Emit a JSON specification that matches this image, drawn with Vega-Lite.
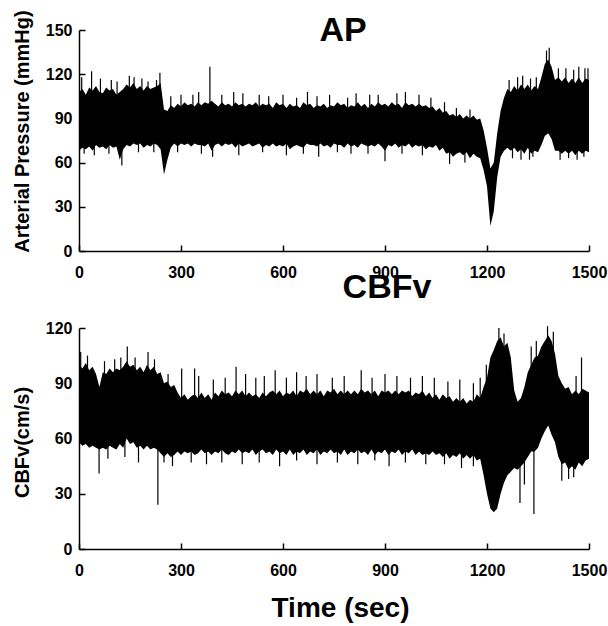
{
  "$schema": "https://vega.github.io/schema/vega-lite/v6.json",
  "padding": {"left": 12, "top": 9, "right": 6, "bottom": 4},
  "background": "white",
  "datasets": {
    "sig": [
      {"t":0,"ap_hi":108,"ap_lo":68,"cb_hi":100,"cb_lo":58},
      {"t":10,"ap_hi":110,"ap_lo":70,"cb_hi":98,"cb_lo":56},
      {"t":20,"ap_hi":106,"ap_lo":69,"cb_hi":101,"cb_lo":57},
      {"t":30,"ap_hi":111,"ap_lo":71,"cb_hi":97,"cb_lo":55},
      {"t":40,"ap_hi":109,"ap_lo":68,"cb_hi":99,"cb_lo":56},
      {"t":50,"ap_hi":112,"ap_lo":72,"cb_hi":95,"cb_lo":55},
      {"t":60,"ap_hi":108,"ap_lo":70,"cb_hi":88,"cb_lo":54},
      {"t":70,"ap_hi":107,"ap_lo":71,"cb_hi":96,"cb_lo":55},
      {"t":80,"ap_hi":111,"ap_lo":69,"cb_hi":95,"cb_lo":54},
      {"t":90,"ap_hi":109,"ap_lo":72,"cb_hi":98,"cb_lo":56},
      {"t":100,"ap_hi":110,"ap_lo":70,"cb_hi":96,"cb_lo":55},
      {"t":110,"ap_hi":106,"ap_lo":71,"cb_hi":98,"cb_lo":54},
      {"t":120,"ap_hi":108,"ap_lo":62,"cb_hi":97,"cb_lo":57},
      {"t":130,"ap_hi":110,"ap_lo":69,"cb_hi":99,"cb_lo":55},
      {"t":140,"ap_hi":113,"ap_lo":72,"cb_hi":102,"cb_lo":60},
      {"t":150,"ap_hi":111,"ap_lo":71,"cb_hi":99,"cb_lo":57},
      {"t":160,"ap_hi":114,"ap_lo":73,"cb_hi":100,"cb_lo":58},
      {"t":170,"ap_hi":110,"ap_lo":72,"cb_hi":97,"cb_lo":55},
      {"t":180,"ap_hi":112,"ap_lo":73,"cb_hi":99,"cb_lo":56},
      {"t":190,"ap_hi":109,"ap_lo":70,"cb_hi":96,"cb_lo":54},
      {"t":200,"ap_hi":112,"ap_lo":72,"cb_hi":100,"cb_lo":56},
      {"t":210,"ap_hi":110,"ap_lo":71,"cb_hi":97,"cb_lo":54},
      {"t":220,"ap_hi":111,"ap_lo":73,"cb_hi":99,"cb_lo":55},
      {"t":230,"ap_hi":112,"ap_lo":72,"cb_hi":95,"cb_lo":54},
      {"t":240,"ap_hi":114,"ap_lo":69,"cb_hi":96,"cb_lo":52},
      {"t":250,"ap_hi":96,"ap_lo":52,"cb_hi":90,"cb_lo":50},
      {"t":260,"ap_hi":95,"ap_lo":62,"cb_hi":91,"cb_lo":52},
      {"t":270,"ap_hi":99,"ap_lo":70,"cb_hi":88,"cb_lo":50},
      {"t":280,"ap_hi":97,"ap_lo":73,"cb_hi":89,"cb_lo":51},
      {"t":290,"ap_hi":100,"ap_lo":71,"cb_hi":85,"cb_lo":53},
      {"t":300,"ap_hi":98,"ap_lo":73,"cb_hi":82,"cb_lo":51},
      {"t":310,"ap_hi":101,"ap_lo":72,"cb_hi":84,"cb_lo":53},
      {"t":320,"ap_hi":99,"ap_lo":73,"cb_hi":81,"cb_lo":52},
      {"t":330,"ap_hi":100,"ap_lo":71,"cb_hi":83,"cb_lo":53},
      {"t":340,"ap_hi":98,"ap_lo":73,"cb_hi":84,"cb_lo":51},
      {"t":350,"ap_hi":101,"ap_lo":72,"cb_hi":82,"cb_lo":52},
      {"t":360,"ap_hi":99,"ap_lo":72,"cb_hi":85,"cb_lo":54},
      {"t":370,"ap_hi":101,"ap_lo":71,"cb_hi":82,"cb_lo":52},
      {"t":380,"ap_hi":100,"ap_lo":73,"cb_hi":84,"cb_lo":53},
      {"t":390,"ap_hi":102,"ap_lo":68,"cb_hi":81,"cb_lo":51},
      {"t":400,"ap_hi":100,"ap_lo":72,"cb_hi":85,"cb_lo":53},
      {"t":410,"ap_hi":98,"ap_lo":73,"cb_hi":83,"cb_lo":52},
      {"t":420,"ap_hi":101,"ap_lo":71,"cb_hi":86,"cb_lo":54},
      {"t":430,"ap_hi":99,"ap_lo":73,"cb_hi":84,"cb_lo":52},
      {"t":440,"ap_hi":100,"ap_lo":72,"cb_hi":85,"cb_lo":51},
      {"t":450,"ap_hi":98,"ap_lo":73,"cb_hi":83,"cb_lo":53},
      {"t":460,"ap_hi":101,"ap_lo":70,"cb_hi":86,"cb_lo":52},
      {"t":470,"ap_hi":99,"ap_lo":73,"cb_hi":84,"cb_lo":54},
      {"t":480,"ap_hi":100,"ap_lo":71,"cb_hi":86,"cb_lo":52},
      {"t":490,"ap_hi":98,"ap_lo":72,"cb_hi":83,"cb_lo":53},
      {"t":500,"ap_hi":100,"ap_lo":73,"cb_hi":85,"cb_lo":52},
      {"t":510,"ap_hi":99,"ap_lo":71,"cb_hi":83,"cb_lo":54},
      {"t":520,"ap_hi":101,"ap_lo":72,"cb_hi":84,"cb_lo":51},
      {"t":530,"ap_hi":98,"ap_lo":73,"cb_hi":82,"cb_lo":53},
      {"t":540,"ap_hi":100,"ap_lo":70,"cb_hi":85,"cb_lo":54},
      {"t":550,"ap_hi":99,"ap_lo":72,"cb_hi":83,"cb_lo":52},
      {"t":560,"ap_hi":100,"ap_lo":71,"cb_hi":85,"cb_lo":53},
      {"t":570,"ap_hi":97,"ap_lo":73,"cb_hi":86,"cb_lo":51},
      {"t":580,"ap_hi":101,"ap_lo":71,"cb_hi":84,"cb_lo":54},
      {"t":590,"ap_hi":99,"ap_lo":72,"cb_hi":86,"cb_lo":52},
      {"t":600,"ap_hi":100,"ap_lo":71,"cb_hi":83,"cb_lo":53},
      {"t":610,"ap_hi":97,"ap_lo":73,"cb_hi":85,"cb_lo":51},
      {"t":620,"ap_hi":100,"ap_lo":69,"cb_hi":84,"cb_lo":54},
      {"t":630,"ap_hi":98,"ap_lo":71,"cb_hi":86,"cb_lo":51},
      {"t":640,"ap_hi":99,"ap_lo":72,"cb_hi":83,"cb_lo":53},
      {"t":650,"ap_hi":97,"ap_lo":71,"cb_hi":86,"cb_lo":52},
      {"t":660,"ap_hi":101,"ap_lo":70,"cb_hi":85,"cb_lo":54},
      {"t":670,"ap_hi":99,"ap_lo":73,"cb_hi":87,"cb_lo":51},
      {"t":680,"ap_hi":100,"ap_lo":72,"cb_hi":84,"cb_lo":53},
      {"t":690,"ap_hi":97,"ap_lo":72,"cb_hi":86,"cb_lo":52},
      {"t":700,"ap_hi":99,"ap_lo":71,"cb_hi":84,"cb_lo":54},
      {"t":710,"ap_hi":98,"ap_lo":73,"cb_hi":86,"cb_lo":51},
      {"t":720,"ap_hi":100,"ap_lo":71,"cb_hi":83,"cb_lo":53},
      {"t":730,"ap_hi":97,"ap_lo":72,"cb_hi":86,"cb_lo":52},
      {"t":740,"ap_hi":99,"ap_lo":70,"cb_hi":85,"cb_lo":54},
      {"t":750,"ap_hi":98,"ap_lo":73,"cb_hi":87,"cb_lo":52},
      {"t":760,"ap_hi":101,"ap_lo":72,"cb_hi":84,"cb_lo":53},
      {"t":770,"ap_hi":99,"ap_lo":72,"cb_hi":86,"cb_lo":51},
      {"t":780,"ap_hi":100,"ap_lo":70,"cb_hi":84,"cb_lo":54},
      {"t":790,"ap_hi":97,"ap_lo":73,"cb_hi":86,"cb_lo":51},
      {"t":800,"ap_hi":99,"ap_lo":71,"cb_hi":84,"cb_lo":53},
      {"t":810,"ap_hi":98,"ap_lo":72,"cb_hi":86,"cb_lo":52},
      {"t":820,"ap_hi":101,"ap_lo":70,"cb_hi":84,"cb_lo":54},
      {"t":830,"ap_hi":98,"ap_lo":73,"cb_hi":87,"cb_lo":52},
      {"t":840,"ap_hi":100,"ap_lo":72,"cb_hi":85,"cb_lo":53},
      {"t":850,"ap_hi":97,"ap_lo":71,"cb_hi":86,"cb_lo":51},
      {"t":860,"ap_hi":100,"ap_lo":72,"cb_hi":84,"cb_lo":54},
      {"t":870,"ap_hi":98,"ap_lo":71,"cb_hi":86,"cb_lo":51},
      {"t":880,"ap_hi":101,"ap_lo":73,"cb_hi":83,"cb_lo":53},
      {"t":890,"ap_hi":99,"ap_lo":71,"cb_hi":86,"cb_lo":52},
      {"t":900,"ap_hi":100,"ap_lo":68,"cb_hi":85,"cb_lo":54},
      {"t":910,"ap_hi":98,"ap_lo":72,"cb_hi":86,"cb_lo":51},
      {"t":920,"ap_hi":101,"ap_lo":71,"cb_hi":84,"cb_lo":53},
      {"t":930,"ap_hi":99,"ap_lo":73,"cb_hi":86,"cb_lo":52},
      {"t":940,"ap_hi":100,"ap_lo":70,"cb_hi":84,"cb_lo":54},
      {"t":950,"ap_hi":97,"ap_lo":72,"cb_hi":86,"cb_lo":51},
      {"t":960,"ap_hi":101,"ap_lo":71,"cb_hi":85,"cb_lo":53},
      {"t":970,"ap_hi":99,"ap_lo":73,"cb_hi":86,"cb_lo":52},
      {"t":980,"ap_hi":100,"ap_lo":70,"cb_hi":83,"cb_lo":54},
      {"t":990,"ap_hi":98,"ap_lo":72,"cb_hi":85,"cb_lo":51},
      {"t":1000,"ap_hi":100,"ap_lo":71,"cb_hi":84,"cb_lo":53},
      {"t":1010,"ap_hi":98,"ap_lo":72,"cb_hi":86,"cb_lo":51},
      {"t":1020,"ap_hi":99,"ap_lo":69,"cb_hi":83,"cb_lo":52},
      {"t":1030,"ap_hi":97,"ap_lo":71,"cb_hi":85,"cb_lo":51},
      {"t":1040,"ap_hi":98,"ap_lo":70,"cb_hi":82,"cb_lo":53},
      {"t":1050,"ap_hi":95,"ap_lo":72,"cb_hi":84,"cb_lo":51},
      {"t":1060,"ap_hi":97,"ap_lo":68,"cb_hi":81,"cb_lo":52},
      {"t":1070,"ap_hi":94,"ap_lo":70,"cb_hi":84,"cb_lo":50},
      {"t":1080,"ap_hi":95,"ap_lo":66,"cb_hi":82,"cb_lo":52},
      {"t":1090,"ap_hi":92,"ap_lo":67,"cb_hi":83,"cb_lo":49},
      {"t":1100,"ap_hi":93,"ap_lo":64,"cb_hi":80,"cb_lo":51},
      {"t":1110,"ap_hi":91,"ap_lo":66,"cb_hi":82,"cb_lo":50},
      {"t":1120,"ap_hi":93,"ap_lo":67,"cb_hi":80,"cb_lo":52},
      {"t":1130,"ap_hi":90,"ap_lo":65,"cb_hi":82,"cb_lo":49},
      {"t":1140,"ap_hi":92,"ap_lo":67,"cb_hi":79,"cb_lo":51},
      {"t":1150,"ap_hi":90,"ap_lo":63,"cb_hi":81,"cb_lo":49},
      {"t":1160,"ap_hi":92,"ap_lo":66,"cb_hi":80,"cb_lo":51},
      {"t":1170,"ap_hi":89,"ap_lo":64,"cb_hi":84,"cb_lo":48},
      {"t":1180,"ap_hi":90,"ap_lo":63,"cb_hi":82,"cb_lo":49},
      {"t":1190,"ap_hi":82,"ap_lo":55,"cb_hi":88,"cb_lo":40},
      {"t":1200,"ap_hi":70,"ap_lo":44,"cb_hi":93,"cb_lo":30},
      {"t":1210,"ap_hi":56,"ap_lo":17,"cb_hi":104,"cb_lo":22},
      {"t":1220,"ap_hi":60,"ap_lo":27,"cb_hi":108,"cb_lo":20},
      {"t":1230,"ap_hi":80,"ap_lo":50,"cb_hi":113,"cb_lo":22},
      {"t":1240,"ap_hi":95,"ap_lo":64,"cb_hi":115,"cb_lo":30},
      {"t":1250,"ap_hi":104,"ap_lo":68,"cb_hi":110,"cb_lo":36},
      {"t":1260,"ap_hi":110,"ap_lo":70,"cb_hi":112,"cb_lo":40},
      {"t":1270,"ap_hi":108,"ap_lo":68,"cb_hi":104,"cb_lo":42},
      {"t":1280,"ap_hi":112,"ap_lo":70,"cb_hi":86,"cb_lo":44},
      {"t":1290,"ap_hi":109,"ap_lo":67,"cb_hi":80,"cb_lo":43},
      {"t":1300,"ap_hi":113,"ap_lo":69,"cb_hi":82,"cb_lo":45},
      {"t":1310,"ap_hi":110,"ap_lo":66,"cb_hi":88,"cb_lo":47},
      {"t":1320,"ap_hi":113,"ap_lo":70,"cb_hi":96,"cb_lo":50},
      {"t":1330,"ap_hi":109,"ap_lo":66,"cb_hi":100,"cb_lo":53},
      {"t":1340,"ap_hi":112,"ap_lo":68,"cb_hi":104,"cb_lo":53},
      {"t":1350,"ap_hi":110,"ap_lo":67,"cb_hi":105,"cb_lo":55},
      {"t":1360,"ap_hi":118,"ap_lo":72,"cb_hi":110,"cb_lo":60},
      {"t":1370,"ap_hi":127,"ap_lo":78,"cb_hi":113,"cb_lo":64},
      {"t":1380,"ap_hi":130,"ap_lo":80,"cb_hi":116,"cb_lo":67},
      {"t":1390,"ap_hi":125,"ap_lo":76,"cb_hi":113,"cb_lo":62},
      {"t":1400,"ap_hi":116,"ap_lo":68,"cb_hi":106,"cb_lo":58},
      {"t":1410,"ap_hi":118,"ap_lo":68,"cb_hi":94,"cb_lo":50},
      {"t":1420,"ap_hi":115,"ap_lo":66,"cb_hi":90,"cb_lo":46},
      {"t":1430,"ap_hi":118,"ap_lo":68,"cb_hi":87,"cb_lo":47},
      {"t":1440,"ap_hi":114,"ap_lo":66,"cb_hi":88,"cb_lo":43},
      {"t":1450,"ap_hi":117,"ap_lo":68,"cb_hi":84,"cb_lo":45},
      {"t":1460,"ap_hi":114,"ap_lo":65,"cb_hi":86,"cb_lo":43},
      {"t":1470,"ap_hi":118,"ap_lo":68,"cb_hi":84,"cb_lo":47},
      {"t":1480,"ap_hi":114,"ap_lo":66,"cb_hi":87,"cb_lo":45},
      {"t":1490,"ap_hi":117,"ap_lo":68,"cb_hi":86,"cb_lo":48},
      {"t":1500,"ap_hi":116,"ap_lo":67,"cb_hi":85,"cb_lo":49}
    ],
    "apSpikes": [
      {"t":8,"v":118},{"t":37,"v":122},{"t":63,"v":117},{"t":95,"v":116},{"t":112,"v":115},
      {"t":148,"v":119},{"t":162,"v":118},{"t":185,"v":117},{"t":203,"v":115},{"t":228,"v":116},{"t":238,"v":121},
      {"t":15,"v":66},{"t":45,"v":65},{"t":88,"v":66},{"t":126,"v":58},{"t":175,"v":67},{"t":220,"v":67},
      {"t":270,"v":105},{"t":300,"v":106},{"t":335,"v":106},{"t":352,"v":108},{"t":385,"v":125},{"t":420,"v":106},
      {"t":455,"v":108},{"t":482,"v":107},{"t":530,"v":106},{"t":558,"v":105},{"t":600,"v":106},{"t":640,"v":104},
      {"t":672,"v":108},{"t":700,"v":105},{"t":737,"v":106},{"t":790,"v":104},{"t":815,"v":107},{"t":855,"v":106},
      {"t":880,"v":106},{"t":935,"v":107},{"t":960,"v":108},{"t":1000,"v":106},{"t":1035,"v":104},{"t":1075,"v":101},
      {"t":1110,"v":97},{"t":1150,"v":96},
      {"t":290,"v":67},{"t":360,"v":66},{"t":393,"v":64},{"t":470,"v":65},{"t":540,"v":67},{"t":610,"v":65},
      {"t":660,"v":66},{"t":705,"v":64},{"t":760,"v":67},{"t":800,"v":66},{"t":850,"v":66},{"t":900,"v":61},
      {"t":950,"v":66},{"t":1010,"v":65},{"t":1090,"v":59},{"t":1135,"v":60},
      {"t":1265,"v":116},{"t":1290,"v":118},{"t":1305,"v":119},{"t":1328,"v":117},{"t":1345,"v":118},
      {"t":1375,"v":136},{"t":1383,"v":138},{"t":1410,"v":124},{"t":1432,"v":124},{"t":1455,"v":123},
      {"t":1470,"v":125},{"t":1488,"v":124},{"t":1497,"v":124},
      {"t":1275,"v":63},{"t":1300,"v":62},{"t":1325,"v":62},{"t":1335,"v":64},{"t":1415,"v":62},
      {"t":1440,"v":63},{"t":1465,"v":62},{"t":1485,"v":64}
    ],
    "cbSpikes": [
      {"t":5,"v":107},{"t":25,"v":105},{"t":75,"v":102},{"t":105,"v":103},{"t":123,"v":104},{"t":142,"v":110},
      {"t":165,"v":104},{"t":203,"v":107},{"t":222,"v":103},{"t":262,"v":95},{"t":302,"v":98},{"t":340,"v":98},
      {"t":352,"v":94},{"t":395,"v":92},{"t":430,"v":93},{"t":462,"v":99},{"t":490,"v":95},{"t":520,"v":93},
      {"t":545,"v":94},{"t":577,"v":97},{"t":610,"v":93},{"t":640,"v":96},{"t":668,"v":94},{"t":700,"v":95},
      {"t":745,"v":93},{"t":780,"v":94},{"t":830,"v":97},{"t":862,"v":93},{"t":900,"v":95},{"t":935,"v":94},
      {"t":975,"v":93},{"t":1010,"v":94},{"t":1045,"v":93},{"t":1085,"v":91},{"t":1120,"v":92},{"t":1160,"v":90},
      {"t":1180,"v":93},{"t":1198,"v":100},{"t":1235,"v":120},{"t":1250,"v":117},{"t":1330,"v":110},
      {"t":1345,"v":113},{"t":1378,"v":121},{"t":1395,"v":118},{"t":1462,"v":94},{"t":1478,"v":104},
      {"t":59,"v":41},{"t":85,"v":49},{"t":135,"v":50},{"t":175,"v":47},{"t":232,"v":24},{"t":250,"v":47},
      {"t":275,"v":45},{"t":330,"v":47},{"t":375,"v":46},{"t":420,"v":47},{"t":480,"v":46},{"t":530,"v":47},
      {"t":590,"v":45},{"t":640,"v":48},{"t":700,"v":46},{"t":760,"v":47},{"t":820,"v":46},{"t":870,"v":48},
      {"t":912,"v":45},{"t":960,"v":47},{"t":1020,"v":46},{"t":1075,"v":46},{"t":1125,"v":44},{"t":1160,"v":45},
      {"t":1297,"v":25},{"t":1310,"v":35},{"t":1338,"v":19},{"t":1420,"v":37},{"t":1440,"v":38},{"t":1455,"v":39}
    ]
  },
  "spacing": -9,
  "vconcat": [
    {
      "width": 510,
      "height": 221,
      "title": {"text": "AP", "fontSize": 34, "fontWeight": "bold", "font": "Liberation Sans", "color": "black", "offset": -38, "dx": 9},
      "layer": [
        {
          "data": {"name": "sig"},
          "mark": {"type": "area", "color": "black", "interpolate": "linear"},
          "encoding": {
            "x": {"field": "t", "type": "quantitative", "scale": {"domain": [0, 1500], "nice": false},
                  "axis": {"values": [0, 300, 600, 900, 1200, 1500], "format": "d", "title": null}},
            "y": {"field": "ap_hi", "type": "quantitative", "scale": {"domain": [0, 150], "nice": false},
                  "axis": {"values": [0, 30, 60, 90, 120, 150], "format": "d", "title": "Arterial Pressure (mmHg)", "titleY": 101}},
            "y2": {"field": "ap_lo"}
          }
        },
        {
          "data": {"name": "apSpikes"},
          "mark": {"type": "rule", "color": "black", "strokeWidth": 1.2},
          "encoding": {
            "x": {"field": "t", "type": "quantitative"},
            "y": {"field": "v", "type": "quantitative"},
            "y2": {"datum": 85}
          }
        }
      ]
    },
    {
      "width": 510,
      "height": 221,
      "title": {"text": "CBFv", "fontSize": 34, "fontWeight": "bold", "font": "Liberation Sans", "color": "black", "offset": 15, "dx": 53},
      "layer": [
        {
          "data": {"name": "sig"},
          "mark": {"type": "area", "color": "black", "interpolate": "linear"},
          "encoding": {
            "x": {"field": "t", "type": "quantitative", "scale": {"domain": [0, 1500], "nice": false},
                  "axis": {"values": [0, 300, 600, 900, 1200, 1500], "format": "d", "title": "Time (sec)", "titleFontSize": 28, "titlePadding": 16, "titleX": 261}},
            "y": {"field": "cb_hi", "type": "quantitative", "scale": {"domain": [0, 120], "nice": false},
                  "axis": {"values": [0, 30, 60, 90, 120], "format": "d", "title": "CBFv(cm/s)", "titleY": 114}},
            "y2": {"field": "cb_lo"}
          }
        },
        {
          "data": {"name": "cbSpikes"},
          "mark": {"type": "rule", "color": "black", "strokeWidth": 1.2},
          "encoding": {
            "x": {"field": "t", "type": "quantitative"},
            "y": {"field": "v", "type": "quantitative"},
            "y2": {"datum": 70}
          }
        }
      ]
    }
  ],
  "config": {
    "font": "Liberation Sans",
    "numberFormat": "d",
    "view": {"stroke": null},
    "axis": {
      "grid": false,
      "domainColor": "black",
      "domainWidth": 1.5,
      "tickColor": "black",
      "tickWidth": 1.5,
      "tickSize": -6,
      "labelFont": "Liberation Sans",
      "labelFontWeight": "bold",
      "labelFontSize": 16,
      "labelColor": "black",
      "labelFlush": false,
      "titleFont": "Liberation Sans",
      "titleFontWeight": "bold",
      "titleColor": "black",
      "titleFontSize": 20
    },
    "axisX": {"labelPadding": 19},
    "axisY": {"labelPadding": 13, "titlePadding": 13}
  }
}
